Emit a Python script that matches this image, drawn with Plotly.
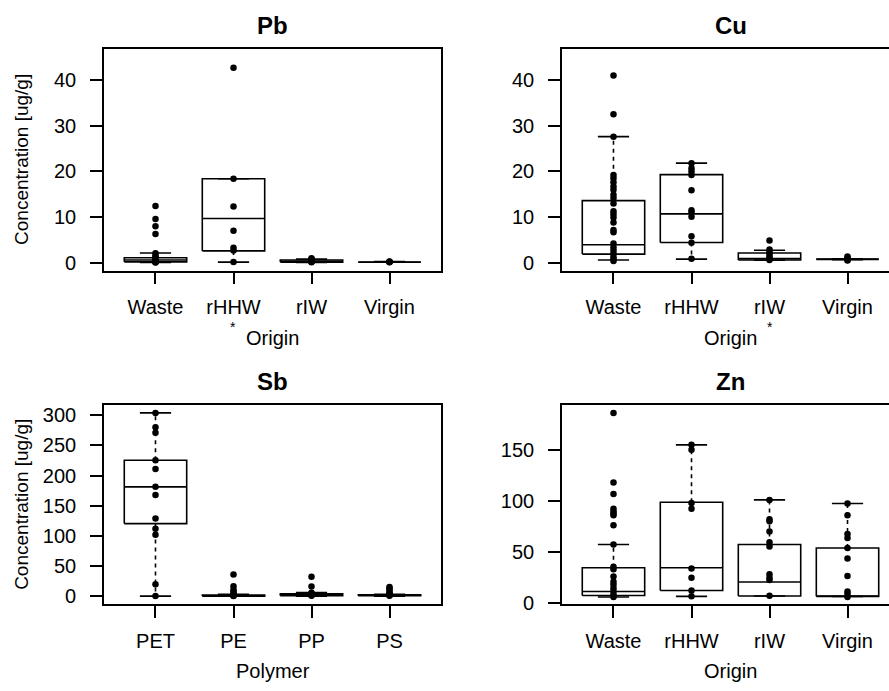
import plotly.graph_objects as go

W, H = 889, 691

# ---------------- data ----------------
origin_groups = ["Waste", "rHHW", "rIW", "Virgin"]
polymer_groups = ["PET", "PE", "PP", "PS"]

# Pb by origin
pb_points = [
    [12.4, 9.6, 8.0, 6.3, 2.1, 1.6, 1.2, 1.0, 0.8, 0.6, 0.4, 0.3, 0.2, 0.1, 0.05],
    [42.7, 18.4, 12.3, 7.0, 3.3, 2.7, 0.15],
    [1.0, 0.8, 0.6, 0.5, 0.4, 0.3, 0.2, 0.1],
    [0.3, 0.2, 0.15, 0.1],
]
# stats: [lower whisker, q1, median, q3, upper whisker]
pb_stats = [
    [0.05, 0.2, 0.6, 1.1, 2.15],
    [0.15, 2.6, 9.7, 18.4, 18.4],
    [0.05, 0.15, 0.35, 0.6, 0.8],
    [0.1, 0.12, 0.15, 0.2, 0.25],
]

# Cu by origin
cu_points = [
    [41.0, 32.5, 27.6, 19.2, 18.5, 17.6, 16.7, 16.0, 14.9, 14.2, 13.0, 11.3, 10.6,
     9.9, 8.8, 7.2, 6.7, 4.2, 3.4, 2.7, 2.0, 1.3, 0.8, 0.4],
    [21.8, 20.7, 20.0, 19.2, 15.9, 11.5, 11.0, 10.1, 5.8, 4.4, 0.9],
    [4.9, 2.9, 2.4, 1.9, 1.4, 1.0, 0.6],
    [1.4, 1.1, 0.8, 0.6, 0.5],
]
cu_stats = [
    [0.6, 1.9, 3.95, 13.6, 27.6],
    [0.8, 4.45, 10.7, 19.3, 21.8],
    [0.55, 0.6, 0.9, 2.15, 2.75],
    [0.7, 0.75, 0.8, 0.8, 0.85],
]

# Sb by polymer
sb_points = [
    [304, 280, 271, 225.5, 211, 181.5, 168, 129, 112, 102, 20, 0.5],
    [36.4, 17, 11, 8, 5, 3, 2, 1, 0.5],
    [32.6, 16.3, 6, 5, 4, 3, 2, 1],
    [15.5, 13, 10, 7, 4.5, 3, 2, 1],
]
sb_stats = [
    [0.5, 120.6, 181.5, 225.5, 304],
    [0.2, 0.5, 1.0, 2.2, 3.5],
    [0.2, 1.0, 2.5, 4.5, 6.5],
    [0.5, 1.0, 1.8, 2.5, 3.5],
]

# Zn by origin
zn_points = [
    [185.9, 118, 106.7, 92.3, 90, 87.8, 85.9, 76.3, 57.4, 35.6, 33.3, 26, 21, 18,
     14.7, 11.5, 8.3, 6.1],
    [154.8, 150, 98, 92.3, 34, 25, 12.5, 6.7],
    [101, 82, 80, 70, 59.6, 55.4, 28.2, 25, 22.8, 7.4],
    [97.4, 85.9, 67.6, 63.8, 53.9, 43.6, 26.6, 11.5, 9, 6.1],
]
zn_stats = [
    [6.1, 7.5, 11.5, 34.6, 57.4],
    [6.7, 12.5, 34.6, 98.7, 154.8],
    [7.0, 7.0, 20.8, 57.4, 101],
    [6.5, 6.7, 6.9, 54, 97.4],
]

pb_ticks = [0, 10, 20, 30, 40]
cu_ticks = [0, 10, 20, 30, 40]
sb_ticks = [0, 50, 100, 150, 200, 250, 300]
zn_ticks = [0, 50, 100, 150]

# ---------------- layout geometry (pixels in the screenshot) ----------------
FONT = "Liberation Sans, Arial, Helvetica, sans-serif"
FS = 20
LW = 1.7

left_x = (104, 441)
right_x = (562, 899)   # right edge falls outside the window
top_y = (49, 274)
bot_y = (411, 613)
unit_px = (left_x[1] - left_x[0]) / 4.32
x0_val = 0.34

panels = [
    dict(name="Pb", pts=pb_points, st=pb_stats, cats=origin_groups, xl="Origin",
         xp=left_x, yp=top_y, yr=(-1.72, 46.74), ticks=pb_ticks, star=2),
    dict(name="Cu", pts=cu_points, st=cu_stats, cats=origin_groups, xl="Origin",
         xp=right_x, yp=top_y, yr=(-1.72, 46.74), ticks=cu_ticks, star=3),
    dict(name="Sb", pts=sb_points, st=sb_stats, cats=polymer_groups, xl="Polymer",
         xp=left_x, yp=bot_y, yr=(-13.0, 316.3), ticks=sb_ticks, star=None),
    dict(name="Zn", pts=zn_points, st=zn_stats, cats=origin_groups, xl="Origin",
         xp=right_x, yp=bot_y, yr=(-1.0, 193.3), ticks=zn_ticks, star=None),
]

fig = go.Figure()
annotations = []


def px2paper(x, y):
    return x / W, 1 - y / H


for k, p in enumerate(panels):
    idx = "" if k == 0 else str(k + 1)
    xa, ya = "x" + idx, "y" + idx
    x_left = p["xp"][0]
    x_right = min(p["xp"][1], W)
    clipped = p["xp"][1] > W
    xr = (x0_val, x0_val + (x_right - x_left) / unit_px)

    # box outlines, whiskers and staples built from the stats
    bx, by, wx, wy, sx, sy = [], [], [], [], [], []
    for i, (lo, q1, med, q3, hi) in enumerate(p["st"]):
        c = i + 1
        bx += [c - 0.4, c + 0.4, c + 0.4, c - 0.4, c - 0.4, None, c - 0.4, c + 0.4, None]
        by += [q1, q1, q3, q3, q1, None, med, med, None]
        wx += [c, c, None, c, c, None]
        wy += [q3, hi, None, q1, lo, None]
        sx += [c - 0.2, c + 0.2, None, c - 0.2, c + 0.2, None]
        sy += [hi, hi, None, lo, lo, None]
    fig.add_trace(go.Scatter(x=wx, y=wy, mode="lines", xaxis=xa, yaxis=ya,
                             line=dict(color="black", width=1.6, dash="4px,4px"),
                             hoverinfo="skip", showlegend=False))
    fig.add_trace(go.Scatter(x=sx, y=sy, mode="lines", xaxis=xa, yaxis=ya,
                             line=dict(color="black", width=1.6),
                             hoverinfo="skip", showlegend=False))
    fig.add_trace(go.Scatter(x=bx, y=by, mode="lines", xaxis=xa, yaxis=ya,
                             line=dict(color="black", width=1.6),
                             hoverinfo="skip", showlegend=False))
    # individual measurements
    px_, py_ = [], []
    for i, vals in enumerate(p["pts"]):
        px_ += [i + 1] * len(vals)
        py_ += vals
    fig.add_trace(go.Scatter(x=px_, y=py_, mode="markers", xaxis=xa, yaxis=ya,
                             marker=dict(color="black", size=6.5, line=dict(width=0)),
                             showlegend=False))

    xdom = [x_left / W, x_right / W]
    ydom = [1 - p["yp"][1] / H, 1 - p["yp"][0] / H]
    fig.layout["xaxis" + idx] = dict(
        domain=xdom, range=list(xr), anchor=ya, showgrid=False, zeroline=False,
        showline=True, mirror=True, linecolor="black", linewidth=LW,
        ticks="outside", ticklen=12, tickwidth=LW, tickcolor="black",
        tickvals=[1, 2, 3, 4], ticktext=p["cats"], ticklabelstandoff=6,
        tickfont=dict(family=FONT, size=FS, color="black"), fixedrange=True)
    fig.layout["yaxis" + idx] = dict(
        domain=ydom, range=list(p["yr"]), anchor=xa, showgrid=False, zeroline=False,
        showline=True, mirror=(not clipped), linecolor="black", linewidth=LW,
        ticks="outside", ticklen=12, tickwidth=LW, tickcolor="black",
        tickvals=p["ticks"], ticklabelstandoff=10,
        tickfont=dict(family=FONT, size=FS, color="black"), fixedrange=True)

    cx = (p["xp"][0] + p["xp"][1]) / 2
    # panel title
    tx, ty = px2paper(cx, p["yp"][0] - 24)
    annotations.append(dict(text="<b>%s</b>" % p["name"], x=tx, y=ty, xref="paper",
                            yref="paper", showarrow=False, xanchor="center", yanchor="middle",
                            font=dict(family=FONT, size=24, color="black")))
    # x axis title
    lx, ly = px2paper(cx, p["yp"][1] + 68)
    annotations.append(dict(text=p["xl"], x=lx, y=ly, xref="paper", yref="paper",
                            showarrow=False, xanchor="center", yanchor="middle",
                            font=dict(family=FONT, size=FS, color="black")))
    # y axis title (left panels only)
    if p["xp"][0] < W / 2:
        yx, yy = px2paper(22, (p["yp"][0] + p["yp"][1]) / 2)
        annotations.append(dict(text="Concentration [ug/g]", x=yx, y=yy, xref="paper",
                                yref="paper", showarrow=False, textangle=-90,
                                xanchor="center", yanchor="middle",
                                font=dict(family=FONT, size=19, color="black")))
    # significance star
    if p["star"] is not None:
        sxp = p["xp"][0] + (p["star"] - x0_val) * unit_px
        ax_, ay_ = px2paper(sxp, p["yp"][1] + 57)
        annotations.append(dict(text="*", x=ax_, y=ay_, xref="paper", yref="paper",
                                showarrow=False, xanchor="center", yanchor="middle",
                                font=dict(family=FONT, size=14, color="black")))

fig.update_layout(
    width=W, height=H, margin=dict(l=0, r=0, t=0, b=0),
    paper_bgcolor="white", plot_bgcolor="white",
    annotations=annotations, showlegend=False,
    font=dict(family=FONT, size=FS, color="black"),
)

fig.write_html("out.html", config={"displayModeBar": False},
               post_script="document.body.style.margin='0';document.body.style.overflow='hidden';")
